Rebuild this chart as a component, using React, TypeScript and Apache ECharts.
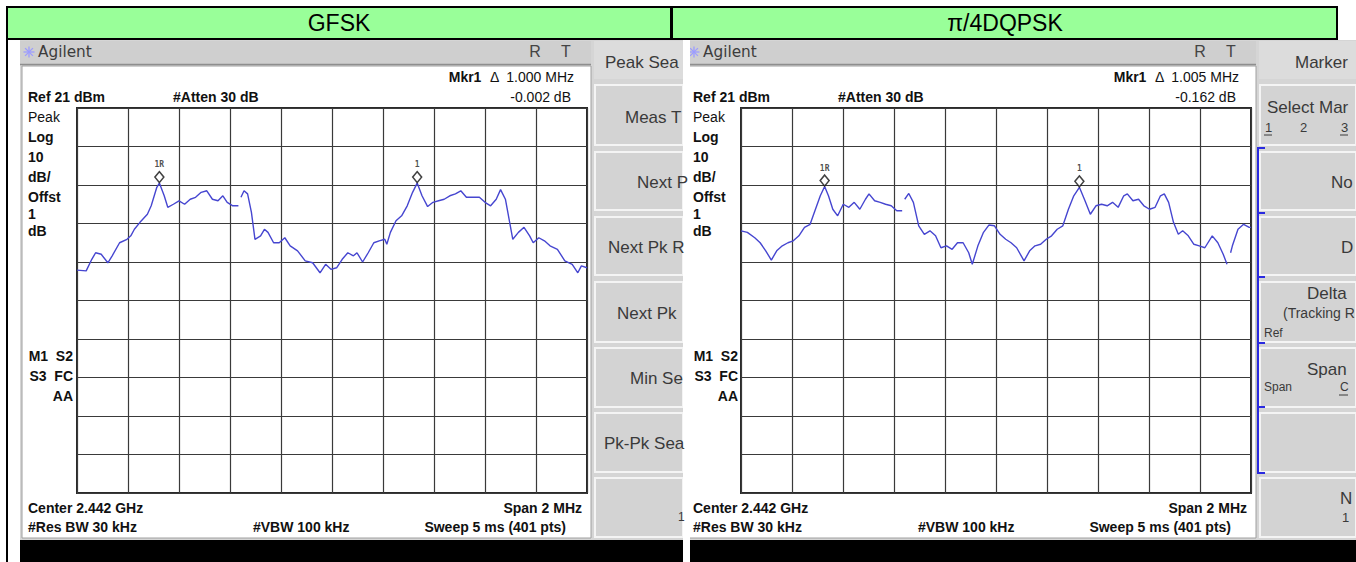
import React, { useEffect, useRef } from "react";
import * as echarts from "echarts";

// ---------------- data ----------------
const REF_LEVEL_DBM = 21; // Ref 21 dBm, 10 dB/div, 10 divisions
const PANEL_TITLES = ["GFSK", "π/4DQPSK"];
const MKR_DELTA_FREQ = ["1.000 MHz", "1.005 MHz"];
const MKR_DELTA_LEVEL = ["-0.002 dB", "-0.162 dB"];

// frequency offset from centre 2.442 GHz, MHz (span 2 MHz)
const gfskFreqMHz = [
  -1.0, -0.964, -0.942, -0.927, -0.905, -0.879, -0.862, -0.833, -0.804, -0.789,
  -0.775, -0.753, -0.724, -0.709, -0.687, -0.677, -0.658, -0.644, -0.622, -0.6,
  -0.578, -0.556, -0.535, -0.513, -0.491, -0.469, -0.447, -0.428, -0.411, -0.389,
  -0.367, -0.362, -0.357, -0.345, -0.331, -0.316, -0.302, -0.28, -0.265, -0.251,
  -0.229, -0.207, -0.185, -0.164, -0.135, -0.105, -0.076, -0.047, -0.025, -0.004,
  0.018, 0.04, 0.062, 0.084, 0.098, 0.12, 0.142, 0.164, 0.185, 0.207,
  0.215, 0.229, 0.251, 0.273, 0.295, 0.316, 0.334, 0.353, 0.375, 0.396,
  0.418, 0.44, 0.462, 0.484, 0.505, 0.527, 0.549, 0.578, 0.6, 0.622,
  0.644, 0.661, 0.68, 0.709, 0.731, 0.753, 0.775, 0.789, 0.811, 0.833,
  0.855, 0.884, 0.913, 0.942, 0.964, 0.978, 1.0,
];
const gfskLevelDbm = [
  -21.1, -21.3, -18.3, -16.6, -17.0, -19.2, -17.4, -14.0, -13.1, -12.2,
  -10.5, -8.7, -6.6, -4.4, 0.4, 1.5, -1.8, -4.8, -4.0, -3.1,
  -4.0, -2.7, -2.2, -0.9, -0.5, -2.7, -3.1, -1.8, -3.5, -4.4,
  -4.4, null, -2.2, -0.5, -1.3, -6.1, -13.1, -12.2, -10.5, -11.3,
  -14.0, -14.0, -12.7, -14.8, -16.1, -18.7, -19.2, -21.8, -19.6, -20.9,
  -20.5, -18.3, -16.6, -17.4, -16.6, -19.0, -16.6, -14.0, -13.5, -13.1,
  -14.4, -11.3, -8.3, -7.0, -4.4, -0.9, 1.5, -1.8, -4.6, -3.5,
  -3.1, -2.7, -1.8, -1.3, -0.5, -2.2, -2.2, -2.2, -3.5, -4.4,
  -2.7, -0.2, -2.7, -13.1, -11.3, -10.0, -12.2, -14.0, -12.7, -13.5,
  -14.8, -15.7, -18.7, -19.6, -21.8, -20.0, -20.5,
];
const gfskMarkerFreqMHz = [-0.677, 0.334];
const gfskMarkerLevelDbm = [1.5, 1.5];

const dqpskFreqMHz = [
  -1.0, -0.975, -0.946, -0.925, -0.903, -0.881, -0.86, -0.838, -0.816, -0.795,
  -0.773, -0.751, -0.729, -0.708, -0.689, -0.672, -0.657, -0.64, -0.621, -0.599,
  -0.577, -0.556, -0.534, -0.512, -0.498, -0.476, -0.454, -0.433, -0.411, -0.389,
  -0.368, -0.363, -0.358, -0.342, -0.324, -0.303, -0.281, -0.259, -0.237, -0.216,
  -0.194, -0.172, -0.151, -0.129, -0.107, -0.093, -0.071, -0.049, -0.028, -0.006,
  0.016, 0.038, 0.059, 0.081, 0.11, 0.132, 0.153, 0.175, 0.197, 0.218,
  0.24, 0.262, 0.284, 0.305, 0.327, 0.349, 0.37, 0.392, 0.414, 0.436,
  0.457, 0.479, 0.501, 0.515, 0.537, 0.559, 0.58, 0.602, 0.624, 0.645,
  0.66, 0.677, 0.696, 0.715, 0.732, 0.754, 0.776, 0.797, 0.819, 0.848,
  0.87, 0.891, 0.906, 0.913, 0.92, 0.927, 0.949, 0.971, 0.993, 1.0,
];
const dqpskLevelDbm = [
  -10.9, -11.3, -12.7, -14.0, -16.1, -18.5, -16.1, -14.8, -14.0, -13.5,
  -12.2, -10.0, -9.2, -5.3, -1.8, 0.6, -1.8, -5.3, -7.0, -4.0,
  -4.8, -3.5, -5.3, -2.7, -1.3, -3.1, -3.5, -4.0, -4.4, -5.7,
  -5.7, null, -2.7, -1.2, -3.5, -9.6, -11.8, -10.9, -12.2, -15.3,
  -14.8, -15.7, -14.0, -14.0, -16.6, -19.6, -14.8, -11.3, -9.4, -9.6,
  -11.8, -13.1, -14.0, -15.3, -18.7, -16.1, -14.8, -14.4, -13.1, -12.2,
  -10.5, -9.6, -5.3, -1.8, 0.4, -3.1, -6.6, -4.4, -4.0, -4.4,
  -3.5, -4.8, -1.8, -1.3, -3.1, -2.7, -4.4, -5.3, -4.8, -1.8,
  -1.3, -3.5, -8.7, -11.8, -10.9, -12.2, -14.4, -14.8, -15.3, -12.2,
  -14.0, -17.0, -19.6, null, -16.6, -14.8, -10.5, -9.2, -10.0, -10.0,
];
const dqpskMarkerFreqMHz = [-0.672, 0.327];
const dqpskMarkerLevelDbm = [0.6, 0.4];
const MARKER_NAMES = ["1R", "1"];

// ---------------- helpers ----------------
const SANS = '"Liberation Sans", Arial, Helvetica, sans-serif';
type El = Record<string, any>;

function T(x: number, y: number, text: string, o: any = {}): El {
  return {
    type: "text",
    x,
    y,
    z: o.z ?? 12,
    silent: true,
    scaleX: o.sx ?? 1,
    scaleY: o.sy ?? 1,
    style: {
      text,
      fill: o.color ?? "#111",
      fontSize: o.size ?? 14,
      fontWeight: o.weight ?? "bold",
      fontFamily: o.family ?? SANS,
      align: o.align ?? "left",
      verticalAlign: "middle",
      ...(o.rich ? { rich: o.rich } : {}),
    },
  };
}
function R(x: number, y: number, w: number, h: number, fill: string, z = 2, stroke?: string, lw = 0): El {
  return {
    type: "rect",
    z,
    silent: true,
    shape: { x, y, width: w, height: h },
    style: { fill, stroke: stroke ?? null, lineWidth: lw },
  };
}
function L(x1: number, y1: number, x2: number, y2: number, stroke: string, lw = 1, z = 3): El {
  return {
    type: "line",
    z,
    silent: true,
    shape: { x1, y1, x2, y2 },
    style: { stroke, lineWidth: lw },
  };
}

const BUTTON_ROWS = [
  [85, 145],
  [152, 210],
  [217, 275],
  [282, 342],
  [348, 407],
  [413, 472],
  [478, 537],
];

function panelEls(dx: number, endX: number, idx: number): El[] {
  const els: El[] = [];
  els.push(R(20 + dx, 40, endX - 20 - dx, 522, "#d5d5d5", 1));
  // title bar
  els.push(R(20 + dx, 41, 571, 23, "#cfcfcf", 2));
  els.push(L(20 + dx, 64.5, 591 + dx, 64.5, "#8e8e8e", 1.5, 3));
  // display
  els.push(R(22 + dx, 66, 569, 472, "#ffffff", 2, "#a0a0a0", 1));
  // softkeys
  els.push(R(594 + dx, 41, endX - 594 - dx, 38, "#dcdcdc", 2));
  BUTTON_ROWS.forEach(([t, b]) =>
    els.push(R(595 + dx, t, endX - 595 - dx, b - t, "#d3d3d3", 2, "#f4f4f4", 2))
  );
  // bottom black
  els.push(R(20 + dx, 540, endX - 20 - dx, 22, "#000000", 2));
  // Agilent starburst icon
  const cx = 29 + dx,
    cy = 52;
  for (let k = 0; k < 4; k++) {
    const a = (k * Math.PI) / 4;
    const r = 5.5;
    els.push(L(cx - r * Math.cos(a), cy - r * Math.sin(a), cx + r * Math.cos(a), cy + r * Math.sin(a), "#9c9cff", 1.3, 4));
  }
  els.push(T(38 + dx, 52, "Agilent", { size: 15, weight: "normal", color: "#3c3c3c", family: '"DejaVu Sans", sans-serif', sx: 1.02 }));
  els.push(T(535 + dx, 51, "R", { size: 16, weight: "normal", color: "#444", align: "center" }));
  els.push(T(566 + dx, 51, "T", { size: 16, weight: "normal", color: "#444", align: "center" }));

  // header texts
  els.push(
    T(574 + dx, 77, `{b|Mkr1}{n|  Δ  ${MKR_DELTA_FREQ[idx]}}`, {
      align: "right",
      rich: {
        b: { fontSize: 14, fontWeight: "bold", fontFamily: SANS, fill: "#111" },
        n: { fontSize: 14, fontWeight: "normal", fontFamily: SANS, fill: "#111" },
      },
    })
  );
  els.push(T(28 + dx, 97, "Ref 21 dBm"));
  els.push(T(173 + dx, 97, "#Atten 30 dB"));
  els.push(T(571 + dx, 97, MKR_DELTA_LEVEL[idx], { align: "right", weight: "normal" }));

  // left label column
  els.push(T(28 + dx, 117, "Peak", { weight: "normal" }));
  [["Log", 137], ["10", 157], ["dB/", 177], ["Offst", 197], ["1", 214], ["dB", 231]].forEach(([s, y]) =>
    els.push(T(28 + dx, y as number, s as string))
  );
  els.push(T(73 + dx, 356, "M1  S2", { align: "right" }));
  els.push(T(73 + dx, 376, "S3  FC", { align: "right" }));
  els.push(T(73 + dx, 396, "AA", { align: "right" }));

  // footer texts
  els.push(T(28 + dx, 508, "Center 2.442 GHz"));
  els.push(T(582 + dx, 508, "Span 2 MHz", { align: "right" }));
  els.push(T(28 + dx, 527, "#Res BW 30 kHz"));
  els.push(T(253 + dx, 527, "#VBW 100 kHz"));
  els.push(T(566 + dx, 527, "Sweep 5 ms (401 pts)", { align: "right" }));
  return els;
}

const KEY = { size: 17, weight: "normal", color: "#3a3a3a" };

function buildGraphic(): El[] {
  const els: El[] = [];
  // header row
  els.push(R(7, 7, 664, 32, "#99ff99", 5, "#000", 2));
  els.push(R(672, 7, 665, 32, "#99ff99", 5, "#000", 2));
  els.push(T(339, 23, PANEL_TITLES[0], { size: 23, weight: "normal", color: "#000", align: "center", z: 13 }));
  els.push(T(1005, 23, PANEL_TITLES[1], { size: 23, weight: "normal", color: "#000", align: "center", z: 13 }));
  els.push(L(7, 7, 7, 562, "#000", 2, 6));

  els.push(...panelEls(0, 683, 0));
  els.push(...panelEls(665, 1356, 1));

  // left softkeys
  els.push(T(605, 62, "Peak Sea", KEY));
  els.push(T(625, 117, "Meas T", KEY));
  els.push(T(637, 182, "Next P", KEY));
  els.push(T(608, 247, "Next Pk R", KEY));
  els.push(T(617, 313, "Next Pk", KEY));
  els.push(T(630, 378, "Min Se", KEY));
  els.push(T(604, 443, "Pk-Pk Sea", KEY));
  els.push(T(678, 517, "1", { size: 12, weight: "normal", color: "#3a3a3a" }));

  // right softkeys
  els.push(T(1295, 62, "Marker", KEY));
  els.push(T(1267, 107, "Select Mar", KEY));
  els.push(T(1265, 127, "1", { size: 13, weight: "normal", color: "#3a3a3a" }));
  els.push(T(1300, 127, "2", { size: 13, weight: "normal", color: "#3a3a3a" }));
  els.push(T(1341, 127, "3", { size: 13, weight: "normal", color: "#3a3a3a" }));
  els.push(L(1264, 135, 1272, 135, "#3a3a3a", 1, 13));
  els.push(L(1340, 135, 1348, 135, "#3a3a3a", 1, 13));
  els.push(T(1331, 182, "No", KEY));
  els.push(T(1341, 247, "D", KEY));
  els.push(T(1307, 293, "Delta", KEY));
  els.push(T(1283, 313, "(Tracking R", { size: 14, weight: "normal", color: "#3a3a3a" }));
  els.push(T(1264, 333, "Ref", { size: 12, weight: "normal", color: "#3a3a3a" }));
  els.push(T(1307, 369, "Span", KEY));
  els.push(T(1264, 387, "Span", { size: 12, weight: "normal", color: "#3a3a3a" }));
  els.push(T(1340, 387, "C", { size: 12, weight: "normal", color: "#3a3a3a" }));
  els.push(L(1339, 395, 1348, 395, "#3a3a3a", 1, 13));
  els.push(T(1340, 498, "N", KEY));
  els.push(T(1342, 517, "1", { size: 13, weight: "normal", color: "#3a3a3a" }));

  // blue bracket
  els.push({
    type: "polyline",
    z: 14,
    silent: true,
    shape: { points: [[1265, 148], [1258, 148], [1258, 473], [1265, 473]] },
    style: { stroke: "#2a2ae0", lineWidth: 2, fill: null },
  });
  [213, 277, 343, 407].forEach((y) => els.push(L(1258, y, 1265, y, "#2a2ae0", 2, 14)));

  // white gap between the two screenshots
  els.push(R(683, 40, 7, 522, "#ffffff", 11));
  return els;
}

const toRel = (v: number | null) => (v == null ? "-" : +(v - REF_LEVEL_DBM).toFixed(2));

function buildOption() {
  const traces = [
    { f: gfskFreqMHz, l: gfskLevelDbm, mf: gfskMarkerFreqMHz, ml: gfskMarkerLevelDbm },
    { f: dqpskFreqMHz, l: dqpskLevelDbm, mf: dqpskMarkerFreqMHz, ml: dqpskMarkerLevelDbm },
  ];
  const grids = [
    { left: 77, top: 108, width: 510, height: 385 },
    { left: 741, top: 108, width: 510, height: 385 },
  ];
  const split = { show: true, lineStyle: { color: "#3a3a3a", width: 1.2 } };
  return {
    animation: false,
    backgroundColor: "#ffffff",
    graphic: { elements: buildGraphic() },
    grid: grids.map((g) => ({
      ...g,
      show: true,
      z: 40,
      backgroundColor: "rgba(0,0,0,0)",
      borderColor: "#2a2a2a",
      borderWidth: 2,
    })),
    xAxis: grids.map((_, i) => ({
      type: "value",
      gridIndex: i,
      min: -1,
      max: 1,
      interval: 0.2,
      z: 40,
      axisLine: { show: false },
      axisTick: { show: false },
      axisLabel: { show: false },
      splitLine: split,
    })),
    yAxis: grids.map((_, i) => ({
      type: "value",
      gridIndex: i,
      min: -100,
      max: 0,
      interval: 10,
      z: 40,
      axisLine: { show: false },
      axisTick: { show: false },
      axisLabel: { show: false },
      splitLine: split,
    })),
    series: [
      ...traces.map((t, i) => ({
        type: "line",
        xAxisIndex: i,
        yAxisIndex: i,
        z: 50,
        showSymbol: false,
        connectNulls: false,
        silent: true,
        lineStyle: { color: "#4646d0", width: 1.4 },
        data: t.f.map((x, k) => [x, toRel(t.l[k])]),
      })),
      ...traces.map((t, i) => ({
        type: "scatter",
        xAxisIndex: i,
        yAxisIndex: i,
        z: 60,
        silent: true,
        symbol: "diamond",
        symbolSize: [9, 11],
        symbolOffset: [0, -6],
        itemStyle: { color: "#ffffff", borderColor: "#111", borderWidth: 1.5 },
        label: {
          show: true,
          position: "top",
          distance: 2,
          fontSize: 8,
          fontWeight: "bold",
          fontFamily: '"DejaVu Sans Mono", monospace',
          color: "#222",
          formatter: (p: any) => MARKER_NAMES[p.dataIndex],
        },
        data: t.mf.map((x, k) => [x, toRel(t.ml[k])]),
      })),
    ],
  };
}

export default function App() {
  const ref = useRef<HTMLDivElement>(null);
  useEffect(() => {
    document.body.style.margin = "0";
    const chart = echarts.init(ref.current!, null, { renderer: "svg" });
    chart.setOption(buildOption() as any);
    return () => chart.dispose();
  }, []);
  return <div ref={ref} style={{ width: 1356, height: 562 }} />;
}
